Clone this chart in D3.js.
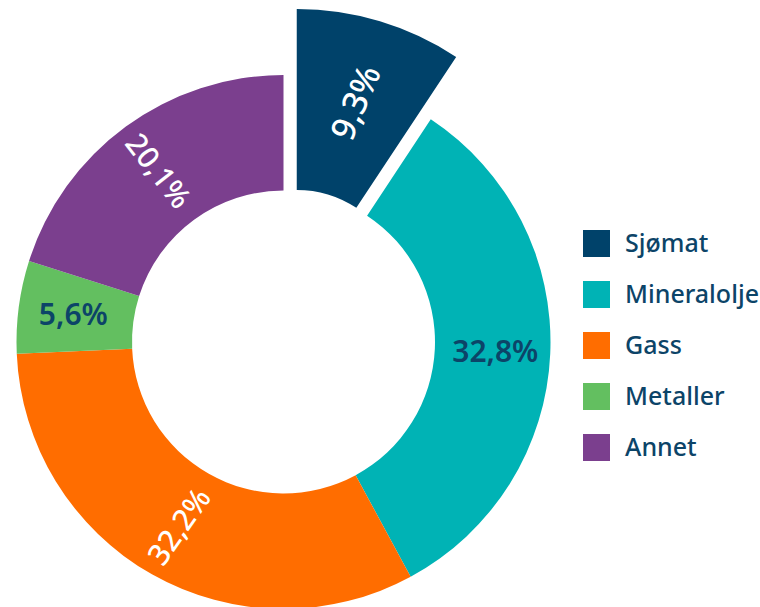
<!DOCTYPE html>
<html>
<head>
<meta charset="utf-8">
<script src="https://cdn.jsdelivr.net/npm/d3@7"></script>
<style>
  html, body { margin: 0; padding: 0; background: #fff; }
  svg { display: block; }
  text { font-family: "Noto Sans", "Open Sans", sans-serif; }
</style>
</head>
<body>
<svg id="chart" width="760" height="607"></svg>
<script>
// ---- data ----
const categories = ["Sjømat", "Mineralolje", "Gass", "Metaller", "Annet"];
const shares = [9.3, 32.8, 32.2, 5.6, 20.1];
const labels = ["9,3%", "32,8%", "32,2%", "5,6%", "20,1%"];
const colors = ["#00426a", "#00b3b5", "#ff6d00", "#63bf60", "#7b3f8e"];
const labelColors = ["#ffffff", "#0c4468", "#ffffff", "#0c4468", "#ffffff"];
const labelAngles = [-67, 0, -55, 0, 52];
const exploded = [true, false, false, false, false];

// ---- layout ----
const svg = d3.select("#chart");
const cx = 283.5, cy = 342;
const rInner = 151.5, rOuter = 267;
const exInner = 108, exOuter = 289, exDist = 46;
const labelR = 212, exLabelR = 204;

const data = categories.map((c, i) => ({ name: c, value: shares[i], i }));

const pie = d3.pie().sort(null).value(d => d.value)
  .startAngle(0).endAngle(2 * Math.PI);
const arcs = pie(data);

const arcMain = d3.arc().innerRadius(rInner).outerRadius(rOuter);
const arcEx = d3.arc().innerRadius(exInner).outerRadius(exOuter);

const g = svg.append("g").attr("transform", `translate(${cx},${cy})`);

const slices = g.selectAll("g.slice").data(arcs).enter().append("g")
  .attr("class", "slice")
  .attr("transform", d => {
    if (!exploded[d.data.i]) return null;
    const mid = (d.startAngle + d.endAngle) / 2;
    return `translate(${exDist * Math.sin(mid)},${-exDist * Math.cos(mid)})`;
  });

slices.append("path")
  .attr("d", d => exploded[d.data.i] ? arcEx(d) : arcMain(d))
  .attr("fill", d => colors[d.data.i]);

slices.append("text")
  .attr("transform", d => {
    const mid = (d.startAngle + d.endAngle) / 2;
    const r = exploded[d.data.i] ? exLabelR : labelR;
    const x = r * Math.sin(mid), y = -r * Math.cos(mid);
    return `translate(${x},${y}) rotate(${labelAngles[d.data.i]})`;
  })
  .attr("text-anchor", "middle")
  .attr("dy", "0.35em")
  .attr("font-size", d => exploded[d.data.i] ? 34 : 30)
  .attr("font-weight", d => labelAngles[d.data.i] === 0 ? 600 : 500)
  .attr("fill", d => labelColors[d.data.i])
  .text(d => labels[d.data.i]);

// ---- legend ----
const legend = svg.append("g").attr("transform", "translate(583,230)");
const ly = d3.scaleBand().domain(categories).range([0, 255]).paddingInner(0);
const items = legend.selectAll("g").data(categories).enter().append("g")
  .attr("transform", d => `translate(0,${ly(d)})`);
items.append("rect").attr("width", 27).attr("height", 27)
  .attr("fill", (d, i) => colors[i]);
items.append("text").attr("x", 42).attr("y", 13.5).attr("dy", "0.35em")
  .attr("font-size", 25).attr("font-weight", 500).attr("fill", "#0c4468")
  .text(d => d);
</script>
</body>
</html>
